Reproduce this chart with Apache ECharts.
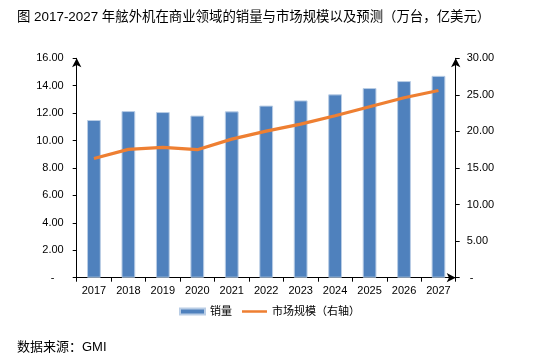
<!DOCTYPE html>
<html><head><meta charset="utf-8">
<script src="https://cdn.jsdelivr.net/npm/echarts@6/dist/echarts.min.js"></script>
<style>html,body{margin:0;padding:0;background:#fff}#c{width:550px;height:364px}</style>
</head><body><div id="c"></div>
<script>
var years = ['2017','2018','2019','2020','2021','2022','2023','2024','2025','2026','2027'];
var sales = [11.5, 12.15, 12.08, 11.82, 12.13, 12.55, 12.93, 13.37, 13.83, 14.34, 14.72];
var market = [16.3, 17.55, 17.82, 17.5, 18.95, 20.05, 21.0, 22.15, 23.38, 24.6, 25.6];
var seriesNames = ['销量', '市场规模（右轴）'];
var titleText = '图 2017-2027 年舷外机在商业领域的销量与市场规模以及预测（万台，亿美元）';
var sourceText = '数据来源：GMI';

var FF = '"Liberation Sans", Arial, "Noto Sans CJK SC", sans-serif';
var chart = echarts.init(document.getElementById('c'));
function fmt(v){ return v === 0 ? '-   ' : v.toFixed(2); }
function fmtR(v){ return v === 0 ? ' -' : v.toFixed(2); }
chart.setOption({
  animation: false,
  textStyle: { fontFamily: FF },
  title: { text: titleText, left: 17, top: 11, padding: 0,
    textStyle: { fontSize: 13.4, fontWeight: 'normal', color: '#000', fontFamily: FF } },
  graphic: [{ type: 'text', left: 17, top: 341, style: { text: sourceText, fontSize: 13, fill: '#000', fontFamily: FF } }],
  legend: {
    left: 179, top: 306, padding: 0, itemGap: 10, itemWidth: 25, itemHeight: 6,
    textStyle: { fontSize: 11, color: '#000', fontFamily: FF },
    data: [
      { name: seriesNames[0], icon: 'rect' },
      { name: seriesNames[1], icon: 'path://M0,0L0.01,0M0,1.8h25v2.4h-25zM0,6L0.01,6',
        itemStyle: { color: '#EE7F32', borderWidth: 0 } }
    ]
  },
  grid: { left: 76.7, right: 94.3, top: 58.3, bottom: 86.3, containLabel: false },
  xAxis: {
    type: 'category', data: years, boundaryGap: true,
    axisLine: { lineStyle: { color: '#000', width: 1 }, symbol: ['none', 'arrow'], symbolSize: [7, 9] },
    axisTick: { show: true, length: 4, lineStyle: { color: '#000' } },
    axisLabel: { color: '#000', fontSize: 11, margin: 8, fontFamily: FF }
  },
  yAxis: [{
    type: 'value', min: 0, max: 16, interval: 2, position: 'left',
    axisLine: { show: true, lineStyle: { color: '#000' }, symbol: ['none', 'arrow'], symbolSize: [7, 9] },
    axisTick: { show: true, length: 4, lineStyle: { color: '#000' } },
    splitLine: { show: false },
    axisLabel: { formatter: fmt, color: '#000', fontSize: 11, margin: 13, fontFamily: FF }
  }, {
    type: 'value', min: 0, max: 30, interval: 5, position: 'right',
    axisLine: { show: true, lineStyle: { color: '#000' }, symbol: ['none', 'arrow'], symbolSize: [7, 9] },
    axisTick: { show: true, length: 4, lineStyle: { color: '#000' } },
    splitLine: { show: false },
    axisLabel: { formatter: fmtR, color: '#000', fontSize: 11, margin: 11, fontFamily: FF }
  }],
  series: [{
    name: seriesNames[0], type: 'bar', data: sales, barWidth: '40%', yAxisIndex: 0,
    itemStyle: { color: '#4F81BD', borderColor: '#B9CDE5', borderWidth: 1 }
  }, {
    name: seriesNames[1], type: 'line', data: market, yAxisIndex: 1,
    symbol: 'none', lineStyle: { color: '#EE7F32', width: 3.2 }, itemStyle: { color: '#EE7F32' }
  }]
});
</script></body></html>
